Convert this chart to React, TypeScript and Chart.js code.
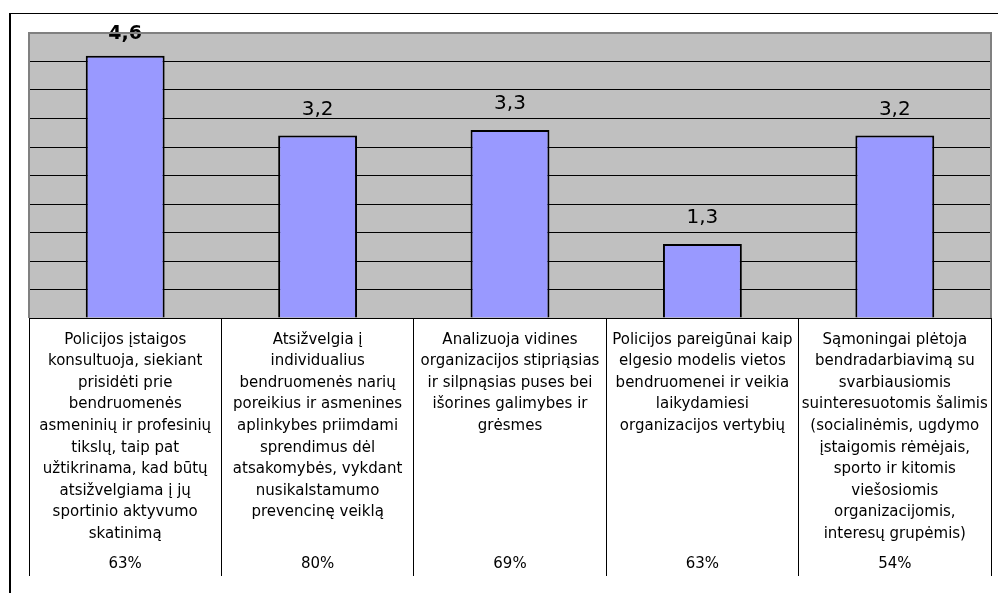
import React, { useEffect, useRef } from 'react';
import { Chart, registerables } from 'chart.js';

Chart.register(...registerables);

const categories: string[][] = [
  ['Policijos įstaigos', 'konsultuoja, siekiant', 'prisidėti prie', 'bendruomenės', 'asmeninių ir profesinių', 'tikslų, taip pat', 'užtikrinama, kad būtų', 'atsižvelgiama į jų', 'sportinio aktyvumo', 'skatinimą'],
  ['Atsižvelgia į', 'individualius', 'bendruomenės narių', 'poreikius ir asmenines', 'aplinkybes priimdami', 'sprendimus dėl', 'atsakomybės, vykdant', 'nusikalstamumo', 'prevencinę veiklą'],
  ['Analizuoja vidines', 'organizacijos stipriąsias', 'ir silpnąsias puses bei', 'išorines galimybes ir', 'grėsmes'],
  ['Policijos pareigūnai kaip', 'elgesio modelis vietos', 'bendruomenei ir veikia', 'laikydamiesi', 'organizacijos vertybių'],
  ['Sąmoningai plėtoja', 'bendradarbiavimą su', 'svarbiausiomis', 'suinteresuotomis šalimis', '(socialinėmis, ugdymo', 'įstaigomis rėmėjais,', 'sporto ir kitomis', 'viešosiomis', 'organizacijomis,', 'interesų grupėmis)'],
];
const values: number[] = [4.6, 3.2, 3.3, 1.3, 3.2];
const percents: string[] = ['63%', '80%', '69%', '63%', '54%'];
const yMin = 0;
const yMax = 5;
const yStep = 0.5;

const FONT = '"DejaVu Sans", "Liberation Sans", Arial, sans-serif';

const plotBg = {
  id: 'plotBg',
  beforeDraw(chart: any) {
    const { ctx, chartArea: a } = chart;
    ctx.save();
    ctx.fillStyle = '#C0C0C0';
    ctx.fillRect(a.left, a.top, a.right - a.left, a.bottom - a.top);
    ctx.restore();
  },
  afterDraw(chart: any) {
    const { ctx, chartArea: a } = chart;
    ctx.save();
    ctx.strokeStyle = '#808080';
    ctx.lineWidth = 2;
    ctx.beginPath();
    ctx.moveTo(a.left, a.bottom);
    ctx.lineTo(a.left, a.top);
    ctx.lineTo(a.right, a.top);
    ctx.lineTo(a.right, a.bottom);
    ctx.stroke();
    ctx.restore();
  },
};

const valueLabels = {
  id: 'valueLabels',
  afterDatasetsDraw(chart: any) {
    const { ctx } = chart;
    const meta = chart.getDatasetMeta(0);
    const maxV = Math.max(...values);
    ctx.save();
    ctx.fillStyle = '#000';
    ctx.textAlign = 'center';
    ctx.textBaseline = 'alphabetic';
    meta.data.forEach((bar: any, i: number) => {
      const v = values[i];
      const bold = v === maxV;
      ctx.font = (bold ? 'bold 19px ' : '20px ') + FONT;
      ctx.fillText(String(v).replace('.', ','), bar.x, bar.y - (bold ? 17 : 21));
    });
    ctx.restore();
  },
};

const percentRow = {
  id: 'percentRow',
  afterDraw(chart: any) {
    const { ctx } = chart;
    const xs = chart.scales.x;
    ctx.save();
    ctx.fillStyle = '#000';
    ctx.textAlign = 'center';
    ctx.textBaseline = 'middle';
    ctx.font = '15px ' + FONT;
    percents.forEach((p, i) => {
      ctx.fillText(p, xs.getPixelForTick(i), xs.top + 246);
    });
    ctx.restore();
  },
};

export default function App() {
  const ref = useRef<HTMLCanvasElement | null>(null);
  useEffect(() => {
    if (!ref.current) return;
    const chart = new Chart(ref.current, {
      type: 'bar',
      data: {
        labels: categories as any,
        datasets: [
          {
            data: values,
            backgroundColor: '#9999FF',
            borderColor: '#000000',
            borderWidth: 2,
            categoryPercentage: 1,
            barPercentage: 0.41,
          },
        ],
      },
      options: {
        animation: false,
        responsive: false,
        layout: { padding: { left: 29, top: 33, right: 7, bottom: 0 } },
        plugins: { legend: { display: false }, tooltip: { enabled: false } },
        scales: {
          x: {
            offset: true,
            grid: {
              offset: true,
              drawOnChartArea: false,
              drawTicks: true,
              tickLength: 258,
              color: '#000',
              lineWidth: 1,
            },
            border: { display: true, color: '#000', width: 1 },
            ticks: {
              autoSkip: false,
              maxRotation: 0,
              minRotation: 0,
              padding: -247,
              color: '#000',
              font: { family: FONT, size: 15, lineHeight: 1.44 },
            },
            afterFit: (scale: any) => {
              scale.height = 275;
            },
          },
          y: {
            min: yMin,
            max: yMax,
            ticks: { display: false, stepSize: yStep },
            grid: {
              drawTicks: false,
              color: (c: any) => (c.tick && c.tick.value === yMax ? 'rgba(0,0,0,0)' : '#000'),
              lineWidth: 1,
            },
            border: { display: false },
          },
        },
      },
      plugins: [plotBg, valueLabels, percentRow],
    });
    return () => chart.destroy();
  }, []);

  return (
    <div style={{ position: 'absolute', left: 0, top: 0, width: 998, height: 593, overflow: 'hidden', background: '#fff' }}>
      <div
        style={{
          position: 'absolute',
          left: 9,
          top: 13,
          width: 1000,
          height: 600,
          borderTop: '1px solid #000',
          borderLeft: '2px solid #000',
        }}
      />
      <canvas ref={ref} width={998} height={593} style={{ position: 'absolute', left: 0, top: 0, display: 'block' }} />
    </div>
  );
}
